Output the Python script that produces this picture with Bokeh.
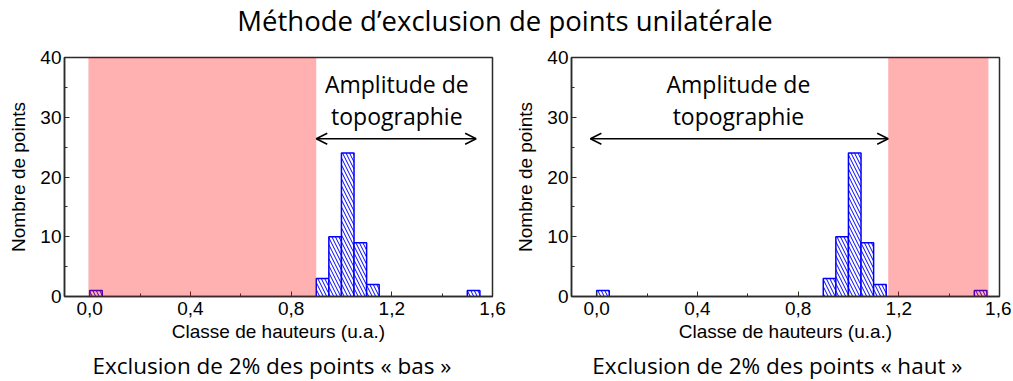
from bokeh.plotting import figure
from bokeh.layouts import column, row
from bokeh.models import (Arrow, OpenHead, BoxAnnotation, FixedTicker,
                          Range1d, CustomJSTickFormatter)
from bokeh.core.properties import value
from bokeh.embed import file_html
from bokeh.resources import INLINE

# ---- data ----
main_title = "Méthode d’exclusion de points unilatérale"
bin_centers = [0.025, 0.925, 0.975, 1.025, 1.075, 1.125, 1.525]
bin_counts = [1, 3, 10, 24, 9, 2, 1]
bin_width = 0.05
x_ticks = [0.0, 0.4, 0.8, 1.2, 1.6]
x_minor = [0.2, 0.6, 1.0, 1.4]
y_ticks = [0, 10, 20, 30, 40]
y_minor = [5, 15, 25, 35]
x_label = "Classe de hauteurs (u.a.)"
y_label = "Nombre de points"
ann_lines = ["Amplitude de", "topographie"]
ann_y = [35.6, 30.2]

left_excl = [-0.005, 0.9]
left_arrow = [0.9, 1.535]
left_text_x = 1.22
right_excl = [1.158, 1.556]
right_arrow = [-0.025, 1.158]
right_text_x = 0.563
arrow_y = 26.4

captions = ["Exclusion de 2% des points « bas »",
            "Exclusion de 2% des points « haut »"]
caption_pos = [0.269, 0.770]   # fraction of page width

AX_FONT = "Liberation Sans"
TXT_FONT = "Open Sans"
DARK = "#2b2b2b"
PAGE_W = 1009


def make_panel(excl, arrow, text_x, border_left, border_right):
    p = figure(frame_width=428, frame_height=239,
               x_range=Range1d(-0.1, 1.6), y_range=Range1d(0, 40),
               output_backend="svg", toolbar_location=None,
               min_border_left=border_left, min_border_right=border_right,
               min_border_top=10, min_border_bottom=48)
    p.xgrid.visible = False
    p.ygrid.visible = False
    p.outline_line_color = DARK
    p.outline_line_width = 1.5
    p.background_fill_color = "white"

    p.vbar(x=bin_centers, top=bin_counts, width=bin_width, bottom=0,
           fill_color="white", line_color="#0000ff", line_width=1.5,
           hatch_pattern="\\", hatch_color="#0000ff", hatch_scale=7,
           hatch_weight=1)

    p.add_layout(BoxAnnotation(left=excl[0], right=excl[1],
                               fill_color="red", fill_alpha=0.31,
                               line_alpha=0))

    p.add_layout(Arrow(start=OpenHead(size=11, line_width=1.5, line_color="black"),
                       end=OpenHead(size=11, line_width=1.5, line_color="black"),
                       x_start=arrow[0], x_end=arrow[1],
                       y_start=arrow_y, y_end=arrow_y,
                       line_width=1.5, line_color="black"))

    p.text(x=[text_x] * len(ann_lines), y=ann_y, text=ann_lines,
           text_font=value(TXT_FONT), text_font_size="23px",
           text_align="center", text_baseline="middle", text_color="black")

    for ax, ticks, minor, lab in ((p.xaxis[0], x_ticks, x_minor, x_label),
                                  (p.yaxis[0], y_ticks, y_minor, y_label)):
        ax.ticker = FixedTicker(ticks=ticks, minor_ticks=minor)
        ax.axis_label = lab
        ax.axis_label_text_font = AX_FONT
        ax.axis_label_text_font_size = "19px"
        ax.axis_label_text_font_style = "normal"
        ax.axis_label_text_color = "black"
        ax.major_label_text_font = AX_FONT
        ax.major_label_text_font_size = "19px"
        ax.major_label_text_color = "black"
        ax.major_tick_in = 5
        ax.major_tick_out = 0
        ax.minor_tick_in = 3
        ax.minor_tick_out = 0
        ax.major_tick_line_color = DARK
        ax.minor_tick_line_color = DARK
        ax.axis_line_color = DARK
        ax.axis_line_width = 1.5
    p.xaxis[0].major_label_standoff = 5
    p.xaxis[0].axis_label_standoff = 3
    p.yaxis[0].major_label_standoff = 3
    p.yaxis[0].axis_label_standoff = 8
    p.xaxis[0].formatter = CustomJSTickFormatter(
        code="return tick.toFixed(1).replace('.', ',');")
    return p


def text_strip(height, xs, y, texts, size):
    s = figure(width=PAGE_W, height=height, x_range=Range1d(0, 1),
               y_range=Range1d(0, 1), output_backend="svg",
               toolbar_location=None, min_border=0)
    s.axis.visible = False
    s.grid.visible = False
    s.outline_line_color = None
    s.text(x=xs, y=[y] * len(xs), text=texts, text_font=value(TXT_FONT),
           text_font_size=size, text_align="center", text_baseline="middle",
           text_color="black")
    return s


left = make_panel(left_excl, left_arrow, left_text_x, 64, 20)
right = make_panel(right_excl, right_arrow, right_text_x, 56, 12)

head = text_strip(47, [0.5], 0.57, [main_title], "27.5px")
foot = text_strip(37, caption_pos, 0.43, captions, "22.5px")

layout = column(head, row(left, right, spacing=0), foot, spacing=0)
open("out.html", "w").write(file_html(layout, INLINE))
